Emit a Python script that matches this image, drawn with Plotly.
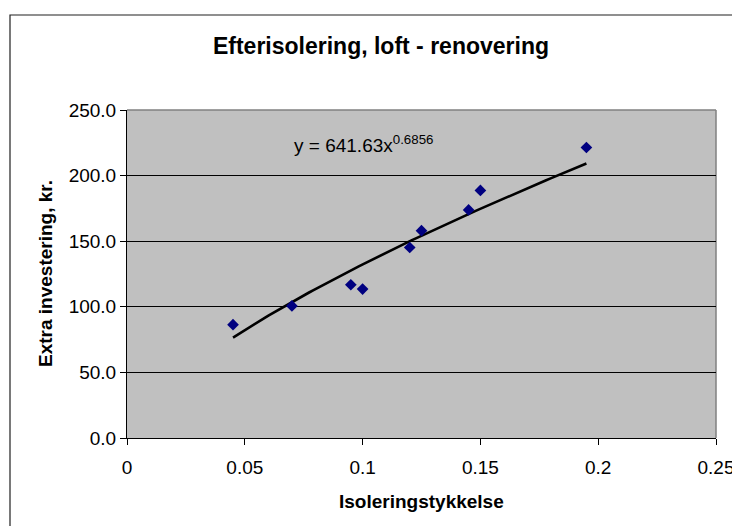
import numpy as np
import plotly.graph_objects as go

# ---- data ----
thickness = [0.045, 0.07, 0.095, 0.10, 0.12, 0.125, 0.145, 0.15, 0.195]
investment = [86.4, 100.7, 116.8, 113.5, 145.2, 158.0, 173.8, 188.7, 221.4]

# power trendline shown on the chart: y = a * x^b
trend_a = 641.63
trend_b = 0.6856

x_tick_vals = [0, 0.05, 0.10, 0.15, 0.20, 0.25]
x_tick_text = ["0", "0.05", "0.1", "0.15", "0.2", "0.25"]
y_tick_vals = [0, 50, 100, 150, 200, 250]
y_tick_text = ["0.0", "50.0", "100.0", "150.0", "200.0", "250.0"]

title_text = "Efterisolering, loft - renovering"
x_title = "Isoleringstykkelse"
y_title = "Extra investering, kr."
equation_text = "y = 641.63x<sup>0.6856</sup>"

FONT = "Arial, Liberation Sans, sans-serif"
W, H = 740, 526
OFF = 8  # page body margin offset in the browser window
# target plot-area placement in the window
PL, PT, PW, PH = 127, 110, 589, 328
L, T = PL - OFF, PT - OFF
R = W - L - PW
B = H - T - PH

x_trend = np.linspace(min(thickness), max(thickness), 80)
y_trend = trend_a * x_trend ** trend_b

fig = go.Figure()
fig.add_trace(go.Scatter(
    x=x_trend, y=y_trend, mode="lines",
    line=dict(color="black", width=2.6), hoverinfo="skip", showlegend=False))
fig.add_trace(go.Scatter(
    x=thickness, y=investment, mode="markers",
    marker=dict(symbol="diamond", size=9, color="#000080", line=dict(width=0)),
    showlegend=False))

def px_to_paper_x(px):
    return (px - PL) / PW

def px_to_paper_y(py):
    return (PT + PH - py) / PH

shapes = [
    # plot-area border (top and right) in gray
    dict(type="line", xref="paper", yref="paper", x0=0, x1=1, y0=1, y1=1,
         line=dict(color="#808080", width=1.5), layer="between"),
    dict(type="line", xref="paper", yref="paper", x0=1, x1=1, y0=0, y1=1,
         line=dict(color="#808080", width=1.5), layer="between"),
    # outer chart border (left and top visible)
    dict(type="rect", xref="paper", yref="paper",
         x0=px_to_paper_x(10), x1=px_to_paper_x(800),
         y0=px_to_paper_y(600), y1=px_to_paper_y(15),
         line=dict(color="#202020", width=1.2), fillcolor="rgba(0,0,0,0)",
         layer="above"),
]

annotations = [
    dict(text="<b>" + x_title + "</b>", xref="paper", yref="paper",
         x=0.5, y=px_to_paper_y(501), xanchor="center", yanchor="middle",
         showarrow=False, font=dict(family=FONT, size=19, color="black")),
    dict(text="<b>" + y_title + "</b>", xref="paper", yref="paper",
         x=px_to_paper_x(45), y=0.5, xanchor="center", yanchor="middle",
         textangle=-90, showarrow=False,
         font=dict(family=FONT, size=19, color="black")),
    dict(text=equation_text, xref="x", yref="y", x=0.0699, y=224,
         xanchor="left", yanchor="middle", showarrow=False,
         font=dict(family=FONT, size=19, color="black")),
]

fig.update_layout(
    width=W, height=H,
    margin=dict(l=L, r=R, t=T, b=B, autoexpand=False),
    paper_bgcolor="white", plot_bgcolor="#C0C0C0",
    font=dict(family=FONT, size=19, color="black"),
    title=dict(text="<b>" + title_text + "</b>", x=(381 - OFF) / W,
               xref="container", xanchor="center", y=1 - (46 - OFF) / H,
               yanchor="middle",
               font=dict(family=FONT, size=23, color="black")),
    shapes=shapes, annotations=annotations,
    xaxis=dict(range=[0, 0.25], tickvals=x_tick_vals, ticktext=x_tick_text,
               showgrid=False, zeroline=False, showline=True, linecolor="black",
               linewidth=1, ticks="outside", ticklen=6, tickcolor="black",
               tickfont=dict(family=FONT, size=19, color="black"),
               ticklabelstandoff=6),
    yaxis=dict(range=[0, 250], tickvals=y_tick_vals, ticktext=y_tick_text,
               showgrid=True, gridcolor="black", gridwidth=1, zeroline=False,
               showline=True, linecolor="black", linewidth=1, ticks="outside",
               ticklen=6, tickcolor="black",
               tickfont=dict(family=FONT, size=19, color="black")),
)

fig.write_html("out.html")
